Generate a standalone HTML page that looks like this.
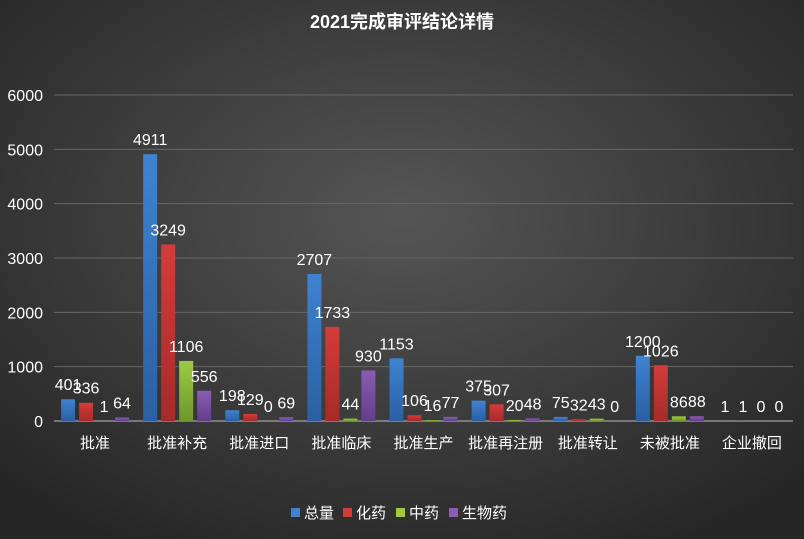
<!DOCTYPE html>
<html><head><meta charset="utf-8"><style>
body{margin:0;width:804px;height:539px;overflow:hidden;background:#333}
svg{display:block;font-family:"Liberation Sans","Noto Sans CJK SC",sans-serif}
</style></head><body>
<svg id="c" width="804" height="539" viewBox="0 0 804 539">
<defs>
<radialGradient id="bg" cx="50%" cy="40%" r="70%"><stop offset="0" stop-color="#555"/><stop offset="1" stop-color="#262626"/></radialGradient>
<linearGradient id="g0" x1="0" y1="0" x2="0" y2="1"><stop offset="0" stop-color="#3f83d0"/><stop offset="1" stop-color="#2b5fa3"/></linearGradient>
<linearGradient id="g1" x1="0" y1="0" x2="0" y2="1"><stop offset="0" stop-color="#d43c3a"/><stop offset="1" stop-color="#a52b29"/></linearGradient>
<linearGradient id="g2" x1="0" y1="0" x2="0" y2="1"><stop offset="0" stop-color="#9fca44"/><stop offset="1" stop-color="#6f962c"/></linearGradient>
<linearGradient id="g3" x1="0" y1="0" x2="0" y2="1"><stop offset="0" stop-color="#8a5cb4"/><stop offset="1" stop-color="#623f8a"/></linearGradient>
</defs>
<rect width="804" height="539" fill="url(#bg)"/>
<text x="402" y="28" fill="#fff" font-size="18" font-weight="bold" text-anchor="middle">2021完成审评结论详情</text>
<g id="grid"></g><g id="bars"></g><g id="labels"></g>
<g id="legend"></g>
</svg>
<script>
const categories=["批准","批准补充","批准进口","批准临床","批准生产","批准再注册","批准转让","未被批准","企业撤回"];
const seriesNames=["总量","化药","中药","生物药"];
const total=[401,4911,198,2707,1153,375,75,1200,1];
const chem=[336,3249,129,1733,106,307,32,1026,1];
const tcm=[1,1106,0,44,16,20,43,86,0];
const bio=[64,556,69,930,77,48,0,88,0];
const yTicks=[0,1000,2000,3000,4000,5000,6000];
const series=[total,chem,tcm,bio];
const NS="http://www.w3.org/2000/svg";
const x0=54,x1=793,yBase=421,yTop=95,yMax=6000;
const band=(x1-x0)/categories.length;
const y=v=>yBase-(v/yMax)*(yBase-yTop);
function mk(t,a,p){const e=document.createElementNS(NS,t);for(const k in a)e.setAttribute(k,a[k]);p.appendChild(e);return e;}
const grid=document.getElementById('grid'),bars=document.getElementById('bars'),labels=document.getElementById('labels'),legend=document.getElementById('legend');
yTicks.forEach(t=>{
 const l=mk('line',{x1:x0,x2:x1,y1:y(t),y2:y(t),stroke:t===0?'#bbb':'#666','stroke-width':1},grid);
 
 
 const tx=mk('text',{x:43,y:y(t)+6,fill:'#fff','font-size':16,'text-anchor':'end'},grid);
 tx.textContent=t;
 
 
});
const bw=14,gap=4;
categories.forEach((c,i)=>{
 const cx=x0+band*(i+0.5);
 const t=mk('text',{x:cx,y:448,fill:'#fff','font-size':15,'text-anchor':'middle'},labels);
 t.textContent=c;
 
 
 series.forEach((s,j)=>{
  const bx=cx-34+j*(bw+gap);
  const v=s[i];
  const r=mk('rect',{x:bx,y:y(v),width:bw,height:yBase-y(v),fill:'url(#g'+j+')'},bars);
  
  
  const lt=mk('text',{x:bx+bw/2,y:y(v)-9,fill:'#fff','font-size':16,'text-anchor':'middle'},labels);
  lt.textContent=v;
  
  
 });
});
const cols=['#3f83d0','#d43c3a','#9fca44','#8a5cb4'];
const lx=[291,343,396,449];
seriesNames.forEach((n,j)=>{
 const g=mk('g',{},legend);
 
 
 mk('rect',{x:lx[j],y:508,width:9,height:9,fill:cols[j]},g);
 const t=mk('text',{x:lx[j]+13,y:518,fill:'#fff','font-size':15},g);
 t.textContent=n;
});
</script>
</body></html>
